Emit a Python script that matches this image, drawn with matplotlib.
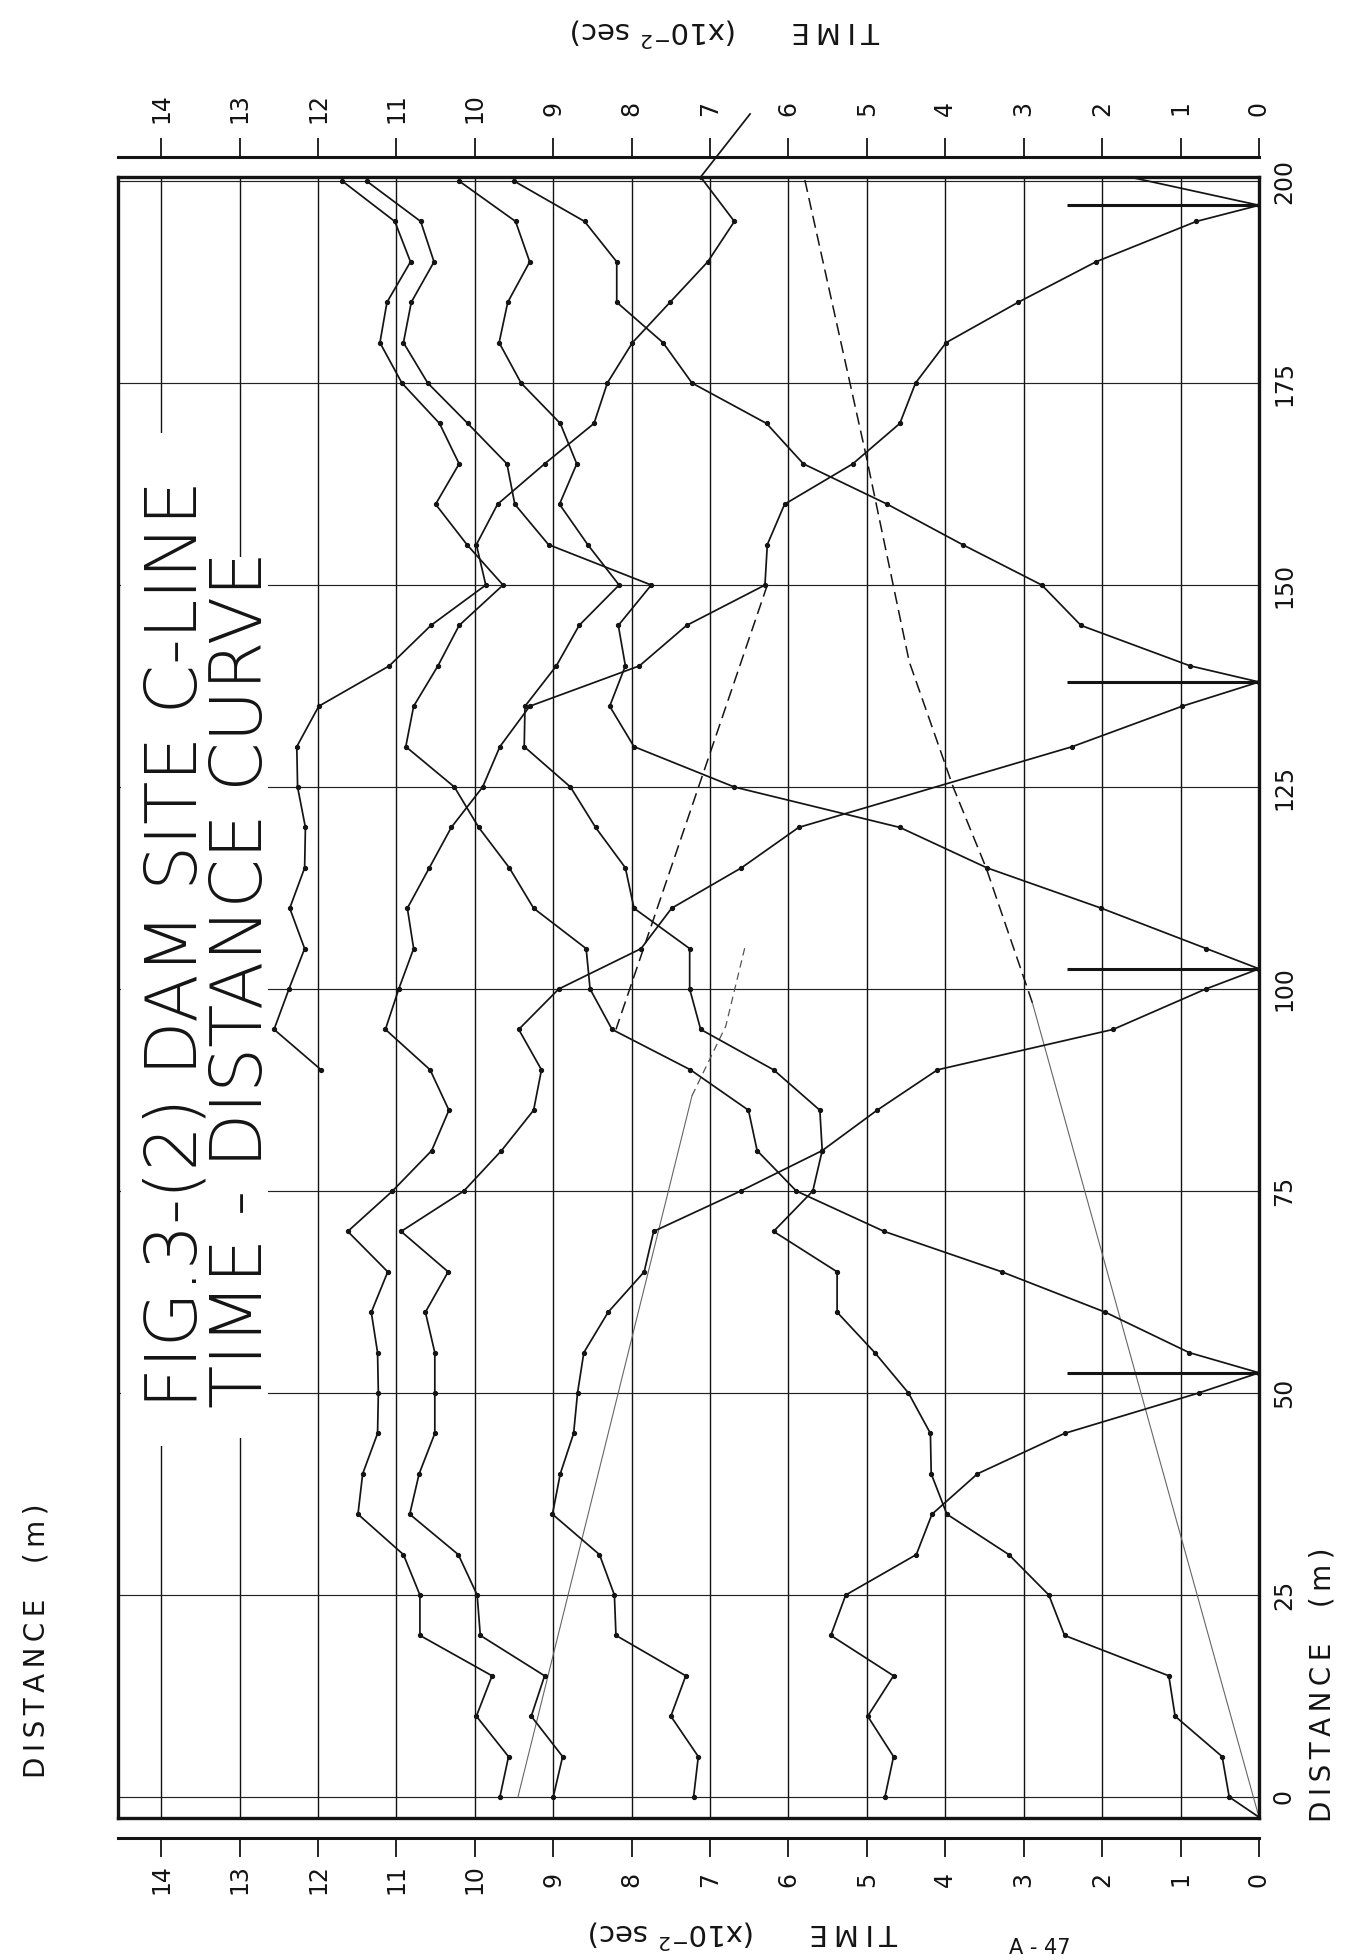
import matplotlib
matplotlib.use("Agg")
import matplotlib.pyplot as plt
from matplotlib import transforms
from matplotlib.patches import Rectangle

W, H = 1363, 1960

# axes: time in 1e-2 sec (runs right to left on the page), distance in m (runs upward)
time_ticks = [0, 1, 2, 3, 4, 5, 6, 7, 8, 9, 10, 11, 12, 13, 14]
time_labels = ["0", "1", "2", "3", "4", "5", "6", "7", "8", "9", "10", "11", "12", "13", "14"]
dist_ticks = [0, 25, 50, 75, 100, 125, 150, 175, 200]
dist_labels = ["0", "25", "50", "75", "100", "125", "150", "175", "200"]

# shot points (spikes)
shot_d = [52.5, 102.5, 138, 197]
spike_t = 2.45

# shot at -2.5 m, forward branch
f0_d = [-2.5, 0, 5, 10, 15, 20, 25, 30, 35, 40, 45, 50, 55, 60, 65, 70, 75, 80, 85, 90, 95,
        100, 105, 110, 115, 120, 125, 130, 135, 140, 145, 150, 155, 160, 165, 170, 175, 180,
        185, 190, 195, 200]
f0_t = [0, 0.38, 0.47, 1.07, 1.15, 2.48, 2.68, 3.19, 3.98, 4.18, 4.19, 4.47, 4.9, 5.38, 5.38,
        6.19, 5.69, 5.57, 5.6, 6.19, 7.12, 7.26, 7.26, 7.97, 8.08, 8.46, 8.78, 9.37, 9.36, 8.96,
        8.67, 8.16, 8.56, 8.92, 8.7, 8.91, 9.41, 9.69, 9.58, 9.3, 9.48, 10.2]

# shot at 52.5 m
f52_d = [52.5, 55, 60, 65, 70, 75, 80, 85, 90, 95, 100, 105, 110, 115, 120, 125, 130, 135,
         140, 145, 150, 155, 160, 165, 170, 175, 180, 185, 190, 195, 200]
f52_t = [0, 0.89, 1.96, 3.28, 4.78, 5.9, 6.4, 6.51, 7.25, 8.25, 8.53, 8.58, 9.25, 9.56, 9.95,
         10.26, 10.88, 10.78, 10.47, 10.2, 9.64, 10.1, 10.5, 10.2, 10.45, 10.93, 11.21, 11.12,
         10.82, 11.02, 11.69]
r52_d = [52.5, 50, 45, 40, 35, 30, 25, 20, 15, 10, 5, 0]
r52_t = [0, 0.77, 2.48, 3.59, 4.17, 4.37, 5.27, 5.46, 4.66, 4.99, 4.66, 4.77]

# shot at 102.5 m
f102_d = [102.5, 105, 110, 115, 120, 125, 130, 135, 140, 145, 150, 155, 160, 165, 170, 175,
          180, 185, 190, 195, 200]
f102_t = [0, 0.67, 2.01, 3.47, 4.58, 6.69, 7.97, 8.28, 8.08, 8.17, 7.75, 9.06, 9.49, 9.59,
          10.09, 10.6, 10.91, 10.81, 10.52, 10.69, 11.38]
r102_d = [102.5, 100, 95, 90, 85, 80, 75, 70, 65, 60, 55, 50, 45, 40, 35, 30, 25, 20, 15, 10, 5, 0]
r102_t = [0, 0.68, 1.86, 4.1, 4.87, 5.57, 6.61, 7.72, 7.84, 8.3, 8.61, 8.69, 8.74, 8.91, 9.01,
          8.41, 8.22, 8.2, 7.31, 7.5, 7.15, 7.21]

# shot at 138 m
f138_d = [138, 140, 145, 150, 155, 160, 165, 170, 175, 180, 185, 190, 195, 200]
f138_t = [0, 0.88, 2.27, 2.77, 3.78, 4.74, 5.81, 6.28, 7.23, 7.6, 8.19, 8.19, 8.6, 9.5]
r138_d = [138, 135, 130, 120, 115, 110, 105, 100, 95, 90, 85, 80, 75, 70, 65, 60, 55, 50, 45,
          40, 35, 30, 25, 20, 15, 10, 5, 0]
r138_t = [0, 0.98, 2.38, 5.87, 6.6, 7.49, 7.88, 8.93, 9.44, 9.15, 9.25, 9.66, 10.14, 10.94,
          10.34, 10.63, 10.51, 10.51, 10.51, 10.71, 10.83, 10.21, 9.97, 9.93, 9.11, 9.28, 8.88, 9.0]

# shot at 197 m
f197_d = [197, 200.5]
f197_t = [0, 1.65]
r197_d = [197, 195, 190, 185, 180, 175, 170, 165, 160, 155, 150, 145, 140, 135, 130, 125, 120,
          115, 110, 105, 100, 95, 90, 85, 80, 75, 70, 65, 60, 55, 50, 45, 40, 35, 30, 25, 20,
          15, 10, 5, 0]
r197_t = [0, 0.8, 2.08, 3.07, 3.99, 4.38, 4.58, 5.18, 6.05, 6.27, 6.3, 7.3, 7.9, 9.3, 9.68,
          9.9, 10.3, 10.58, 10.86, 10.78, 10.97, 11.14, 10.57, 10.33, 10.55, 11.05, 11.62,
          11.11, 11.32, 11.24, 11.23, 11.24, 11.43, 11.49, 10.91, 10.7, 10.7, 9.78, 9.98, 9.57, 9.68]

# shot beyond the far end, reverse branch (runs out through the top axis)
off_d = [90, 95, 100, 105, 110, 115, 120, 125, 130, 135, 140, 145, 150, 155, 160, 165, 170,
         175, 180, 185, 190, 195, 200.5]
off_t = [11.96, 12.56, 12.37, 12.17, 12.36, 12.17, 12.16, 12.26, 12.27, 11.99, 11.09, 10.56,
         9.86, 9.98, 9.71, 9.11, 8.48, 8.31, 7.99, 7.51, 7.03, 6.69, 7.12]
off_ext_d = [200.5, 208.3]
off_ext_t = [7.12, 6.49]

# guide lines
guide1_d = [-2.5, 98.3]
guide1_t = [0, 2.89]
guide1_dash_d = [98.3, 115, 125, 140.5, 166, 200.5]
guide1_dash_t = [2.89, 3.48, 3.9, 4.46, 5.01, 5.8]
guide2_d = [150, 95]
guide2_t = [6.27, 8.2]
guide3_d = [0, 86.8]
guide3_t = [9.45, 7.23]
guide3_dash_d = [86.8, 95.4, 105.4]
guide3_dash_t = [7.23, 6.8, 6.55]

ink = "#141414"


def px(x, y):
    return x / W, 1 - y / H


fig = plt.figure(figsize=(W / 100, H / 100), dpi=100)
fig.patch.set_facecolor("white")

ax = fig.add_axes([118 / W, 1 - 1818 / H, (1259 - 118) / W, (1818 - 177) / H])
ax.set_xlim(14.55, 0)
ax.set_ylim(-2.6, 200.5)
ax.set_xticks(time_ticks)
ax.set_yticks(dist_ticks)
ax.tick_params(length=0, labelbottom=False, labelleft=False)
ax.xaxis.grid(True, color="#111111", lw=1.0)
ax.yaxis.grid(True, color="#222222", lw=0.85)
for s in ax.spines.values():
    s.set_linewidth(2.4)
    s.set_color(ink)

# title block blanks the grid underneath
ax.add_patch(Rectangle(px(121, 1446), (205 - 121) / W, (1446 - 433) / H,
                       transform=fig.transFigure, fc="white", ec="none", zorder=1.8))
ax.add_patch(Rectangle(px(205, 1438), (268 - 205) / W, (1438 - 557) / H,
                       transform=fig.transFigure, fc="white", ec="none", zorder=1.8))

# time axes above and below the frame
off = 20 / (1818 - 177)
for loc, side in [(1 + off, "top"), (-off, "bottom")]:
    sec = ax.secondary_xaxis(loc)
    sec.set_xticks(time_ticks)
    sec.tick_params(axis="x", direction="out", length=14, width=1.3, color=ink,
                    labeltop=False, labelbottom=False)
    sec.spines[side].set_linewidth(2.2)
    sec.spines[side].set_color(ink)


def curve(t, d):
    ax.plot(t, d, color=ink, lw=1.25, marker="o", ms=2.8, mfc=ink, mec=ink, zorder=3)


for t, d in [(f0_t, f0_d), (f52_t, f52_d), (r52_t, r52_d), (f102_t, f102_d), (r102_t, r102_d),
             (f138_t, f138_d), (r138_t, r138_d), (r197_t, r197_d), (off_t, off_d)]:
    curve(t, d)
ax.plot(f197_t, f197_d, color=ink, lw=1.25, zorder=3)
ax.plot(off_ext_t, off_ext_d, color=ink, lw=1.25, zorder=3, clip_on=False)

ax.hlines(shot_d, 0, spike_t, color=ink, lw=2.2, zorder=3)

ax.plot(guide1_t, guide1_d, color="#666666", lw=0.8, zorder=2.5)
ax.plot(guide1_dash_t, guide1_dash_d, color=ink, lw=1.1, dashes=(8, 4), zorder=2.5)
ax.plot(guide2_t, guide2_d, color=ink, lw=1.1, dashes=(8, 4), zorder=2.5)
ax.plot(guide3_t, guide3_d, color="#666666", lw=0.8, zorder=2.5)
ax.plot(guide3_dash_t, guide3_dash_d, color="#555555", lw=0.9, dashes=(6, 4), zorder=2.5)

# tick labels
tx = transforms.blended_transform_factory(ax.transData, fig.transFigure)
for t, lab in zip(time_ticks, time_labels):
    ax.text(t, 1 - 108 / H, lab, transform=tx, rotation=90, ha="center", va="center",
            fontsize=17, color=ink, clip_on=False)
    ax.text(t, 1 - 1879 / H, lab, transform=tx, rotation=90, ha="center", va="center",
            fontsize=17, color=ink, clip_on=False)

ty = transforms.blended_transform_factory(fig.transFigure, ax.transData)
for d, lab in zip(dist_ticks, dist_labels):
    ax.text(1284 / W, d, lab, transform=ty, rotation=90, ha="center", va="center",
            fontsize=17, color=ink, clip_on=False)

th = "\u2009"
dist_txt = th.join("DISTANCE") + "    (" + th + "m" + th + ")"
time_txt = th.join("TIME") + "      (x10$^{-2}$ sec)"

fig.text(*px(1322, 1685), dist_txt, rotation=90, ha="center", va="center", fontsize=20, color=ink)
fig.text(*px(37, 1641), dist_txt, rotation=90, ha="center", va="center", fontsize=20, color=ink)
fig.text(*px(725, 32), time_txt, rotation=180, ha="center", va="center", fontsize=21, color=ink)
fig.text(*px(743, 1934), time_txt, rotation=180, ha="center", va="center", fontsize=21, color=ink)

# title
fig.text(*px(196, 1408), "FIG.3-(2) DAM SITE C-LINE", rotation=90, rotation_mode="anchor",
         ha="left", va="baseline", fontsize=51, fontweight="light", color=ink)
fig.text(*px(262, 1408), "TIME - DISTANCE CURVE", rotation=90, rotation_mode="anchor",
         ha="left", va="baseline", fontsize=51, fontweight="light", color=ink)

fig.text(*px(1040, 1958), "A - 47", ha="center", va="bottom", fontsize=15, color=ink)

fig.savefig("out.png", dpi=100, facecolor="white")
